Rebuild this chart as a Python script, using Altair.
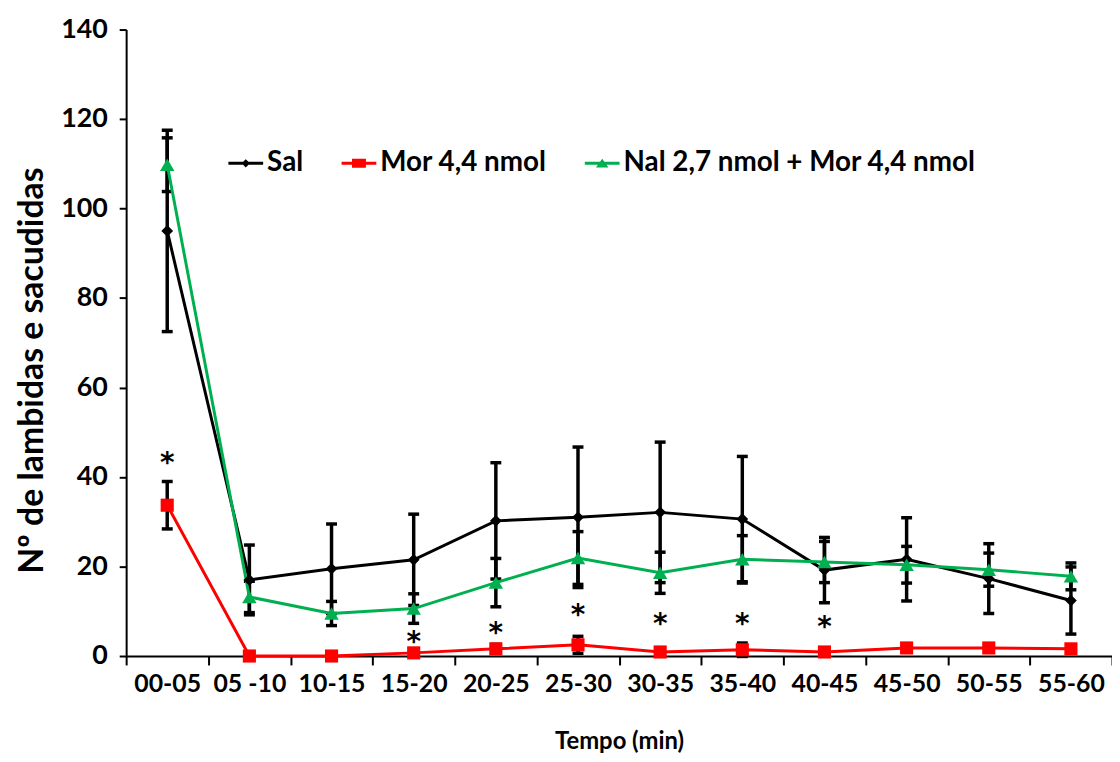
import altair as alt
import pandas as pd

cats = ["00-05", "05 -10", "10-15", "15-20", "20-25", "25-30",
        "30-35", "35-40", "40-45", "45-50", "50-55", "55-60"]
series_names = ["Sal", "Mor 4,4 nmol", "Nal 2,7 nmol + Mor 4,4 nmol"]
series_colors = ["#000000", "#FF0000", "#00B050"]

sal_mean = [95.0, 17.0, 19.5, 21.5, 30.2, 31.0, 32.1, 30.6, 19.2, 21.6, 17.3, 12.4]
sal_sd = [22.5, 7.8, 10.0, 10.2, 13.0, 15.7, 15.7, 14.0, 7.3, 9.3, 7.8, 7.5]
mor_mean = [33.7, 0.0, 0.0, 0.7, 1.6, 2.5, 0.9, 1.4, 0.9, 1.8, 1.8, 1.6]
mor_sd = [5.3, 0.0, 0.0, 0.8, 1.0, 1.9, 0.8, 1.5, 0.8, 0.8, 0.8, 0.8]
nal_mean = [109.8, 13.2, 9.5, 10.6, 16.4, 21.9, 18.6, 21.6, 21.0, 20.4, 19.3, 17.8]
nal_sd = [6.0, 3.5, 2.7, 3.3, 5.4, 5.9, 4.6, 5.3, 4.6, 4.1, 3.7, 3.0]

star_cats = ["00-05", "15-20", "20-25", "25-30", "30-35", "35-40", "40-45"]
star_vals = [44.6, 4.7, 6.6, 10.6, 8.8, 8.8, 8.1]

rows = []
for name, means, sds in zip(series_names, [sal_mean, mor_mean, nal_mean], [sal_sd, mor_sd, nal_sd]):
    for c, m, s in zip(cats, means, sds):
        rows.append({"t": c, "series": name, "leg": name, "mean": m, "lo": m - s, "hi": m + s})
df = pd.DataFrame(rows)
stars = pd.DataFrame({"t": star_cats, "y": star_vals, "label": ["*"] * len(star_cats)})

FONT = "Lato"
YTITLE = "Nº de lambidas e sacudidas"

x_enc = alt.X(
    "t:N", sort=cats,
    scale=alt.Scale(type="band", domain=cats, paddingInner=0, paddingOuter=0),
    axis=alt.Axis(title="Tempo (min)", tickBand="extent", labelAngle=0,
                  labelFont=FONT, labelFontSize=25, labelFontWeight="bold", labelColor="black",
                  labelPadding=7, tickSize=9, tickWidth=2, tickColor="black",
                  domainColor="black", domainWidth=2,
                  titleFont=FONT, titleFontSize=24, titleFontWeight="bold", titleColor="black",
                  titlePadding=33, grid=False),
)
y_scale = alt.Scale(domain=[0, 140], nice=False)
y_axis = alt.Axis(values=[0, 20, 40, 60, 80, 100, 120, 140], grid=False,
                  labelFont=FONT, labelFontSize=27, labelFontWeight="bold", labelColor="black",
                  labelPadding=12, tickSize=7, tickWidth=2, tickColor="black",
                  domainColor="black", domainWidth=2,
                  titleFont=FONT, titleFontSize=34, titleFontWeight="bold", titleColor="black",
                  titlePadding=11, titleY=343)

line_path = "M-1,-0.085H1V0.085H-1Z"
legend_shapes = [
    line_path + " M-0.24,0L0,-0.24L0.24,0L0,0.24Z",
    line_path + " M-0.4,-0.26H0.4V0.26H-0.4Z",
    line_path + " M-0.36,0.24L0,-0.26L0.36,0.24Z",
]

legend = alt.Legend(
    title=None, orient="none", legendX=103, legendY=117, direction="horizontal",
    labelFont=FONT, labelFontSize=28, labelFontWeight="bold", labelColor="black",
    labelLimit=600, symbolSize=1225, labelOffset=4, columnPadding=38, symbolStrokeWidth=0,
    symbolOpacity=1,
)
color_scale = alt.Scale(domain=series_names, range=series_colors)
color_enc = alt.Color("series:N", scale=color_scale, legend=None)

base = alt.Chart(df)

err = base.mark_rule(color="black", strokeWidth=3.5).encode(
    x=x_enc, y=alt.Y("lo:Q", scale=y_scale, axis=y_axis, title=YTITLE), y2="hi:Q")
cap_hi = base.mark_tick(color="black", thickness=3.5, size=11, opacity=1).encode(
    x=x_enc, y=alt.Y("hi:Q", scale=y_scale, title=YTITLE))
cap_lo = base.mark_tick(color="black", thickness=3.5, size=11, opacity=1).encode(
    x=x_enc, y=alt.Y("lo:Q", scale=y_scale, title=YTITLE))
lines = base.mark_line(strokeWidth=3).encode(
    x=x_enc, y=alt.Y("mean:Q", scale=y_scale, title=YTITLE), color=color_enc)
points = base.mark_point(filled=True, opacity=1).encode(
    x=x_enc, y=alt.Y("mean:Q", scale=y_scale, title=YTITLE), color=color_enc,
    shape=alt.Shape("series:N", scale=alt.Scale(domain=series_names,
                                                 range=["diamond", "square", "triangle-up"]),
                    legend=None),
    size=alt.Size("series:N", scale=alt.Scale(domain=series_names, range=[140, 210, 220]),
                  legend=None),
)
legend_layer = base.mark_point(filled=True, opacity=0).encode(
    x=x_enc, y=alt.Y("mean:Q", scale=y_scale, title=YTITLE),
    color=alt.Color("leg:N", scale=color_scale, legend=legend),
    shape=alt.Shape("leg:N", scale=alt.Scale(domain=series_names, range=legend_shapes),
                    legend=legend),
)
star_layer = alt.Chart(stars).mark_text(
    font="DejaVu Sans", fontSize=28, fontWeight="bold", color="black",
    baseline="alphabetic", dy=16
).encode(x=x_enc, y=alt.Y("y:Q", scale=y_scale, title=YTITLE), text="label:N")

chart = alt.layer(err, cap_hi, cap_lo, lines, points, legend_layer, star_layer).resolve_scale(
    color="independent", shape="independent"
).properties(
    width=993, height=631,
    autosize=alt.AutoSizeParams(type="none"),
    padding={"left": 119, "top": 19, "right": 0, "bottom": 96},
    background="white",
).configure_view(stroke=None)

chart.save("out.html", embed_options={"renderer": "svg", "actions": False})
